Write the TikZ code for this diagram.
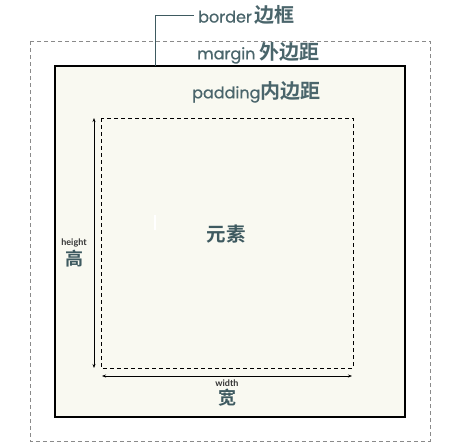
\documentclass[tikz,border=0pt]{standalone}
\usepackage{fontspec}
\setmainfont{Poppins}[FakeBold=0.6]
\newfontfamily\cjk{Noto Sans CJK SC Bold}
\newfontfamily\smallf{Lato Bold}
\usetikzlibrary{arrows.meta}
\definecolor{txt}{HTML}{3E5A60}
\definecolor{lat}{HTML}{4A656B}
\definecolor{cream}{HTML}{F9F9F1}
\definecolor{mgrey}{HTML}{8A8A8A}
\tikzset{
  lbl/.style={anchor=west,inner sep=0pt,text=lat,font=\fontsize{16}{16}\selectfont},
  zh/.style={inner sep=0pt,text=txt,font=\cjk\fontsize{18}{18}\selectfont},
  small/.style={inner sep=0pt,text=black!80,font=\smallf\fontsize{9}{9}\selectfont},
  dim/.style={line width=0.8pt},
}
\begin{document}
\begin{tikzpicture}[x=1pt,y=-1pt]
\useasboundingbox (0,0) rectangle (459,448);
% margin (grey dashed)
\draw[mgrey,line width=0.9pt,dash pattern=on 4pt off 3pt] (30,41) rectangle (430,441);
% border box
\draw[fill=cream,line width=1.1pt] (55,66) rectangle (405,417);
% content (dashed)
\draw[line width=0.9pt,dash pattern=on 4pt off 3pt] (101,118) rectangle (353,368);
% white mark
\fill[white] (153.5,215) rectangle (155.5,230);
% dimension arrows
\coordinate (ht) at (94,118);
\coordinate (hb) at (94,368);
\draw[dim,{Stealth[length=4pt,width=3pt]}-{Stealth[length=4pt,width=3pt]}] (hb) -- (ht);
\coordinate (wl) at (102,376);
\coordinate (wr) at (352,376);
\draw[dim,{Stealth[length=4pt,width=3pt]}-{Stealth[length=4pt,width=3pt]}] (wl) -- (wr);
% labels
\node[small] (hlbl) at (74,243) {height};
\node[zh] (hzh) at (74,259) {高};
\node[small] (wlbl) at (227,383) {width};
\node[zh] (wzh) at (227,398) {宽};
\node[zh,font=\cjk\fontsize{19.5}{19.5}\selectfont] (elem) at (226,234) {元素};
% top labels
\node[lbl] (border) at (198,15) {border\,{\cjk\fontsize{20}{20}\selectfont 边框}};
\node[lbl] (margin) at (197,53) {margin {\cjk\fontsize{20}{20}\selectfont 外边距}};
\node[lbl] (padding) at (192,92) {padding{\cjk\fontsize{20}{20}\selectfont 内边距}};
\coordinate (bstart) at (155,66);
\draw[txt,line width=1pt] (bstart) |- ([xshift=-4pt]border.west);
\end{tikzpicture}
\end{document}
